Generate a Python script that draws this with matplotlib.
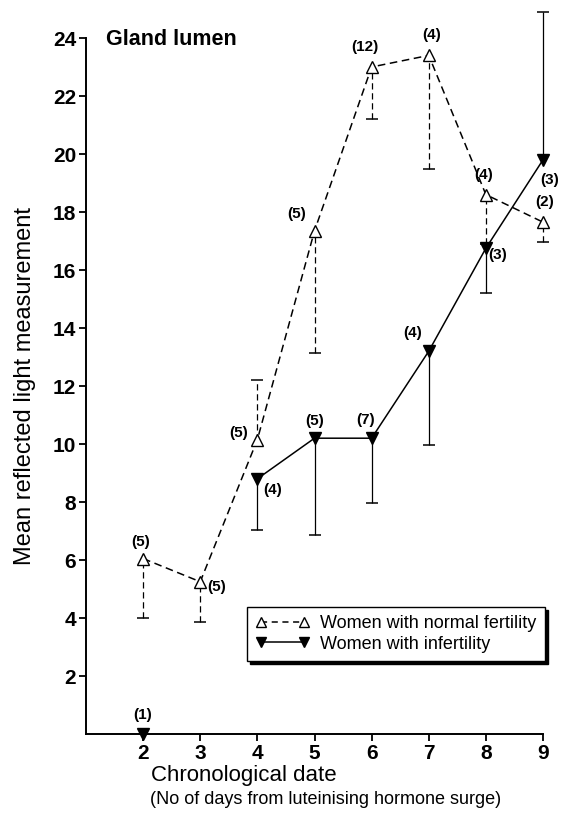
import matplotlib
matplotlib.use("Agg")
import matplotlib.pyplot as plt
from matplotlib.lines import Line2D

plt.rcParams['font.family'] = ['Liberation Sans', 'DejaVu Sans']

# ---- data ----
days_normal = [2, 3, 4, 5, 6, 7, 8, 9]
mean_normal = [6.05, 5.25, 10.15, 17.35, 23.0, 23.4, 18.6, 17.65]
err_lo_normal = [2.05, 1.4, 0.0, 4.2, 1.8, 3.9, 1.7, 0.7]
err_hi_normal = [0.0, 0.0, 2.05, 0.0, 0.0, 0.0, 0.0, 0.0]
n_normal = ["(5)", "(5)", "(5)", "(5)", "(12)", "(4)", "(4)", "(2)"]

days_infert = [4, 5, 6, 7, 8, 9]
mean_infert = [8.8, 10.2, 10.2, 13.2, 16.75, 19.8]
err_lo_infert = [1.75, 3.35, 2.25, 3.25, 1.55, 0.0]
err_hi_infert = [0.0, 0.0, 0.0, 0.0, 0.0, 5.1]
n_infert = ["(4)", "(5)", "(7)", "(4)", "(3)", "(3)"]

single_day = [2]
single_val = [0.0]
single_n = ["(1)"]

xticks = [2, 3, 4, 5, 6, 7, 8, 9]
yticks = [2, 4, 6, 8, 10, 12, 14, 16, 18, 20, 22, 24]

# label offsets in pixels (dx, dy)
off_normal = [(-3, 17), (16, -5), (-19, 7), (-18, 17), (-7, 20), (3, 20), (-2, 20), (2, 20)]
off_infert = [(15, -11), (0, 17), (-6, 18), (-16, 18), (12, -7), (7, -20)]

fig = plt.figure(figsize=(5.66, 8.19), dpi=100)
ax = fig.add_axes([86/566, 85/819, (543-86)/566, (734-38)/819])
ax.set_xlim(1, 9)
ax.set_ylim(0, 24)

lw = 1.1
dash = (0, (5, 3))


def draw_errors(xs, ys, lo, hi, ls):
    for x, y, l, h in zip(xs, ys, lo, hi):
        if l > 0:
            ax.vlines(x, y - l, y, colors='black', linestyles=ls, linewidth=0.9,
                      clip_on=False, zorder=2)
            ax.plot([x], [y - l], marker='_', ms=8, mew=1.1, color='black',
                    clip_on=False, zorder=2)
        if h > 0:
            ax.vlines(x, y, y + h, colors='black', linestyles=ls, linewidth=0.9,
                      clip_on=False, zorder=2)
            ax.plot([x], [y + h], marker='_', ms=8, mew=1.1, color='black',
                    clip_on=False, zorder=2)


draw_errors(days_normal, mean_normal, err_lo_normal, err_hi_normal, dash)
draw_errors(days_infert, mean_infert, err_lo_infert, err_hi_infert, 'solid')

ax.plot(days_normal, mean_normal, linestyle=dash, color='black', linewidth=lw,
        marker='^', mfc='white', mec='black', ms=9, mew=1.0, clip_on=False, zorder=3)
ax.plot(days_infert, mean_infert, linestyle='-', color='black', linewidth=lw,
        marker='v', mfc='black', mec='black', ms=9, clip_on=False, zorder=4)
ax.plot(single_day, single_val, 'v', color='black', ms=9, clip_on=False, zorder=5)

for x, y, t, (dx, dy) in zip(days_normal, mean_normal, n_normal, off_normal):
    ax.annotate(t, (x, y), xytext=(dx, dy), textcoords='offset pixels', ha='center',
                va='center', fontsize=11, fontweight='bold', annotation_clip=False)
for x, y, t, (dx, dy) in zip(days_infert, mean_infert, n_infert, off_infert):
    ax.annotate(t, (x, y), xytext=(dx, dy), textcoords='offset pixels', ha='center',
                va='center', fontsize=11, fontweight='bold', annotation_clip=False)
for x, y, t in zip(single_day, single_val, single_n):
    ax.annotate(t, (x, y), xytext=(-1, 19), textcoords='offset pixels', ha='center',
                va='center', fontsize=11, fontweight='bold', annotation_clip=False)

# axes styling
for s in ['top', 'right']:
    ax.spines[s].set_visible(False)
for s in ['left', 'bottom']:
    ax.spines[s].set_linewidth(1.4)
ax.spines['left'].set_bounds(0, 24)
ax.set_xticks(xticks)
ax.set_yticks(yticks)
ax.tick_params(axis='both', direction='out', length=5, width=1.3, labelsize=15, pad=2)
for lab in ax.get_xticklabels() + ax.get_yticklabels():
    lab.set_fontweight('bold')

ax.text(0.043, 0.998, "Gland lumen", transform=ax.transAxes, fontsize=15.5,
        fontweight='bold', va='center', ha='left')

ax.set_ylabel("Mean reflected light measurement", fontsize=17, labelpad=12)
fig.text(151/566, 1 - 775/819, "Chronological date", fontsize=16, ha='left', va='center')
fig.text(150/566, 1 - 800/819, "(No of days from luteinising hormone surge)", fontsize=13,
         ha='left', va='center')

h1 = Line2D([], [], linestyle=(0, (4, 3)), color='black', linewidth=lw, marker='^',
            mfc='white', mec='black', ms=7.5, mew=1.0)
h2 = Line2D([], [], linestyle='-', color='black', linewidth=lw, marker='v',
            mfc='black', mec='black', ms=7.5)
leg = ax.legend([h1, h2], ["Women with normal fertility", "Women with infertility"],
                loc='upper left', bbox_to_anchor=((247-86)/457, (734-607)/696),
                numpoints=2, handlelength=3.0, handletextpad=0.6, fontsize=13,
                frameon=True, fancybox=False, edgecolor='black', borderpad=0.45,
                labelspacing=0.2, borderaxespad=0,
                shadow={'color': 'black', 'alpha': 1.0, 'ox': 2.5, 'oy': -2.5})
leg.get_frame().set_linewidth(1.0)

fig.savefig("out.png", dpi=100)
